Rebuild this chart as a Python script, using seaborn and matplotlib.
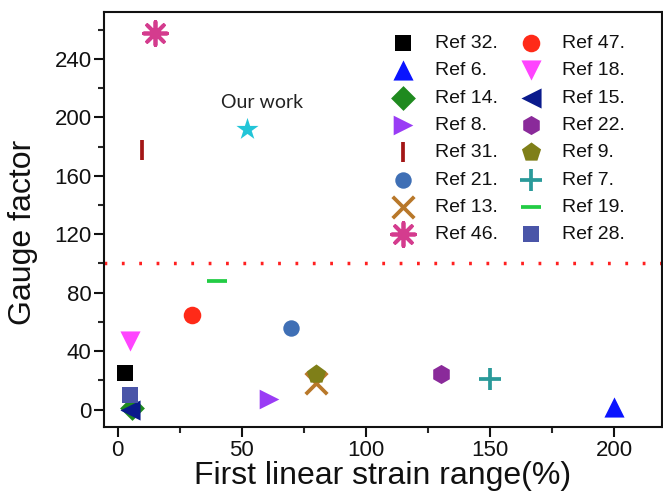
import matplotlib
matplotlib.use("Agg")
import matplotlib.pyplot as plt
import seaborn as sns
import pandas as pd

# ---- data ----
refs = ["Ref 32.", "Ref 6.", "Ref 14.", "Ref 8.", "Ref 31.", "Ref 21.", "Ref 13.", "Ref 46.",
        "Ref 47.", "Ref 18.", "Ref 15.", "Ref 22.", "Ref 9.", "Ref 7.", "Ref 19.", "Ref 28."]
strain = [3, 200, 6, 61, 10, 70, 80, 15,
          30, 5, 5, 130, 80, 150, 40, 5]
gauge = [25, 2, 1, 7, 178, 56, 18, 258,
         65, 47, 0, 24, 24, 21, 88, 10]
markers = ["s", "^", "D", ">", "|", "o", "x", (8, 2, 0),
           "o", "v", "<", "h", "p", "+", "_", "s"]
colors = ["#000000", "#0a14ff", "#1f8a1f", "#9a3cf5", "#a31616", "#3f6fb5", "#b8782a", "#d43c8e",
          "#ff2a18", "#ff44ff", "#0a1a8c", "#8a2a9a", "#7f7f18", "#2a9a9a", "#22cc44", "#4a55a8"]
sizes = [140, 210, 160, 200, 200, 140, 240, 280,
         160, 210, 210, 190, 210, 240, 220, 120]

our_x = [52]
our_y = [192]
threshold = 100

df = pd.DataFrame({"ref": refs, "strain": strain, "gauge": gauge})

sns.set_theme(style="ticks")
plt.rcParams["font.family"] = ["Liberation Sans", "DejaVu Sans"]

fig = plt.figure(figsize=(6.63, 5.03), dpi=100)
ax = fig.add_axes([0.157, 0.151, 0.841, 0.8245])

ax.axhline(threshold, color="#ff2020", lw=2.5, linestyle=(0, (0.8, 4.2)), zorder=1)

for i, row in df.iterrows():
    m = markers[i]
    lw = 2.7 if m in ("|", "_", "x", "+", (8, 2, 0)) else 0
    sns.scatterplot(x=[row["strain"]], y=[row["gauge"]], marker=m, color=colors[i],
                    s=sizes[i], linewidth=lw, label=row["ref"], ax=ax, zorder=3)

sns.scatterplot(x=our_x, y=our_y, marker="*", color="#22c5d8", s=280, linewidth=0, ax=ax, zorder=3)
ax.text(58, 210, "Our work", fontsize=14, ha="center", va="center", family="Lato", color="#222222")

ax.set_xlim(-5.4, 219)
ax.set_ylim(-12, 272)
ax.set_xticks([0, 50, 100, 150, 200])
ax.set_xticks([25, 75, 125, 175], minor=True)
ax.set_yticks([0, 40, 80, 120, 160, 200, 240])
ax.set_yticks([20, 60, 100, 140, 180, 220, 260], minor=True)
ax.tick_params(axis="both", which="major", direction="out", length=7, width=1.5, labelsize=16,
               colors="#111111", pad=2)
ax.tick_params(axis="both", which="minor", direction="out", length=4, width=1.5)
for sp in ax.spines.values():
    sp.set_linewidth(1.5)
    sp.set_color("#111111")

ax.set_xlabel("First linear strain range(%)", fontsize=23, labelpad=0, color="#111111")
ax.set_ylabel("Gauge factor", fontsize=23, color="#111111")
ax.yaxis.set_label_coords(-0.118, 0.47)

leg = ax.legend(ncol=2, loc="upper left", bbox_to_anchor=(0.481, 0.975), frameon=False,
                fontsize=14, handletextpad=0.6, columnspacing=0.7, labelspacing=0.5,
                markerscale=1.0, borderaxespad=0.2)
for t in leg.get_texts():
    t.set_color("#111111")

fig.savefig("out.png", dpi=100)
